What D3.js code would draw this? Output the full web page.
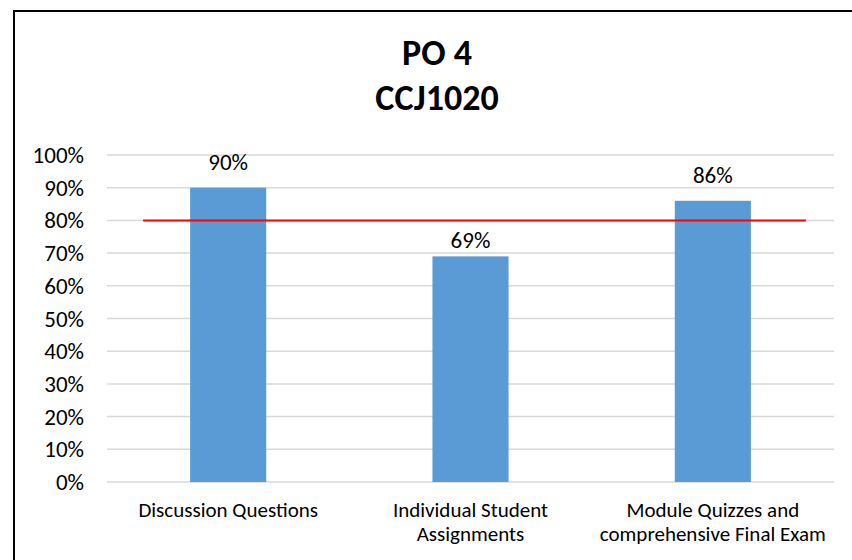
<!DOCTYPE html>
<html>
<head>
<meta charset="utf-8">
<title>PO 4 CCJ1020</title>
<style>
  body { margin: 0; background: #fff; }
  svg text { font-family: Carlito, Calibri, Lato, sans-serif; fill: #000; }
</style>
</head>
<body>
<main></main>
<script src="https://cdn.jsdelivr.net/npm/d3@7/dist/d3.min.js"></script>
<script>
    // data
    var categories = [["Discussion Questions"], ["Individual Student", "Assignments"], ["Module Quizzes and", "comprehensive Final Exam"]];
    var values = [0.90, 0.69, 0.86];
    var valueLabels = ["90%", "69%", "86%"];
    var target = 0.80;
    var yTicks = [0, 0.1, 0.2, 0.3, 0.4, 0.5, 0.6, 0.7, 0.8, 0.9, 1.0];
    var titleLines = ["PO 4", "CCJ1020"];

    var width = 852, height = 560;
    var svg = d3.select("main").append("svg")
        .attr("width", width).attr("height", height);

    // chart frame
    svg.append("rect")
        .attr("x", 14).attr("y", 11)
        .attr("width", 860).attr("height", 580)
        .attr("fill", "none").attr("stroke", "#000").attr("stroke-width", 2);

    var plotLeft = 107, plotRight = 834, plotTop = 155, plotBottom = 482;

    var x = d3.scaleBand()
        .domain(d3.range(categories.length))
        .range([plotLeft, plotRight])
        .paddingInner(0.686).paddingOuter(0.343);
    var y = d3.scaleLinear().domain([0, 1]).range([plotBottom, plotTop]);

    // gridlines
    svg.append("g").selectAll("line").data(yTicks).enter().append("line")
        .attr("x1", plotLeft).attr("x2", plotRight)
        .attr("y1", function (d) { return y(d); })
        .attr("y2", function (d) { return y(d); })
        .attr("stroke", "#d9d9d9").attr("stroke-width", 1.5);

    // y axis labels
    svg.append("g").selectAll("text").data(yTicks).enter().append("text")
        .attr("x", 84)
        .attr("y", function (d) { return y(d); })
        .attr("dy", "0.35em")
        .attr("text-anchor", "end")
        .style("font-size", "23px")
        .text(d3.format(".0%"));

    // bars
    svg.append("g").selectAll("rect").data(values).enter().append("rect")
        .attr("x", function (d, i) { return x(i); })
        .attr("y", function (d) { return y(d); })
        .attr("width", x.bandwidth())
        .attr("height", function (d) { return y(0) - y(d); })
        .attr("fill", "#5b9bd5");

    // value labels (below-target label sits closer to its bar, clear of the red line)
    svg.append("g").selectAll("text").data(values).enter().append("text")
        .attr("x", function (d, i) { return x(i) + x.bandwidth() / 2; })
        .attr("y", function (d) { return y(d) - (d < target ? 8 : 18); })
        .attr("text-anchor", "middle")
        .style("font-size", "23px")
        .text(function (d, i) { return valueLabels[i]; });

    // target line
    svg.append("line")
        .attr("x1", x(0) - 47).attr("x2", x(2) + x.bandwidth() + 55)
        .attr("y1", y(target)).attr("y2", y(target))
        .attr("stroke", "#ff0000").attr("stroke-width", 2);

    // category labels
    var cat = svg.append("g").selectAll("text").data(categories).enter().append("text")
        .attr("x", function (d, i) { return x(i) + x.bandwidth() / 2; })
        .attr("y", 517)
        .attr("text-anchor", "middle")
        .style("font-size", "21px");
    cat.selectAll("tspan").data(function (d) { return d; }).enter().append("tspan")
        .attr("x", function () { return d3.select(this.parentNode).attr("x"); })
        .attr("dy", function (d, i) { return i === 0 ? 0 : 24; })
        .text(function (d) { return d; });

    // title
    svg.append("g").selectAll("text").data(titleLines).enter().append("text")
        .attr("x", 437)
        .attr("y", function (d, i) { return 65 + i * 45; })
        .attr("text-anchor", "middle")
        .style("font-size", "36px")
        .style("font-weight", "bold")
        .text(function (d) { return d; });
</script>
</body>
</html>
